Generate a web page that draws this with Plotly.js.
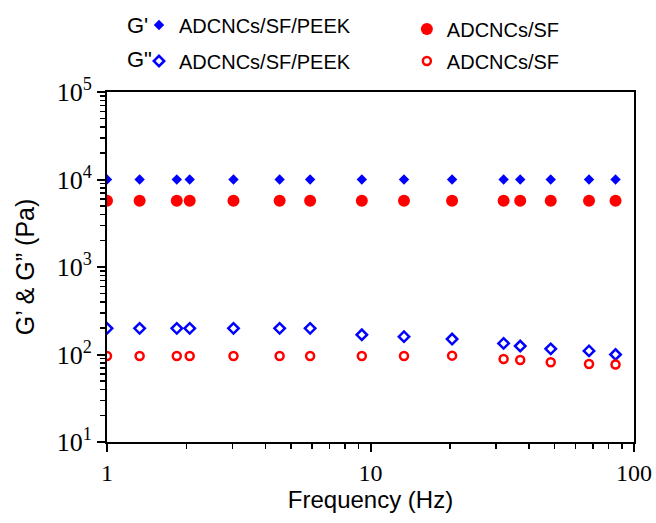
<!DOCTYPE html>
<html>
<head>
<meta charset="utf-8">
<script src="https://cdn.plot.ly/plotly-3.0.1.min.js"></script>
<style>html,body{margin:0;padding:0;background:#fff;}#chart{width:656px;height:523px;}</style>
</head>
<body>
<div id="chart"></div>
<script>
// Frequency (Hz)
const frequency = [1, 1.33, 1.84, 2.06, 3.02, 4.52, 5.9, 9.27, 13.4, 20.4, 32.0, 37.0, 48.3, 67.5, 85.1];
// Storage modulus G' (Pa)
const gPrimePEEK = [10000, 10000, 10000, 10000, 10000, 10000, 10000, 10000, 10000, 10000, 10000, 10000, 10000, 10000, 10000];
const gPrimeSF   = [5700, 5700, 5700, 5700, 5700, 5700, 5700, 5700, 5700, 5700, 5700, 5700, 5700, 5700, 5700];
// Loss modulus G'' (Pa)
const gDoublePEEK = [199, 199, 199, 199, 199, 199, 199, 168, 160, 150, 134, 125, 116, 110, 100];
const gDoubleSF   = [96, 96, 96, 96, 96, 96, 96, 96, 96, 97, 89, 86.5, 81.5, 78, 77];
// Labels
const seriesNames = ['ADCNCs/SF/PEEK', 'ADCNCs/SF', 'ADCNCs/SF/PEEK', 'ADCNCs/SF'];
const xTickVals = [1, 10, 100];
const xTickText = ['1', '10', '100'];
const yTickVals = [10, 100, 1000, 10000, 100000];
const yTickText = ['10<sup>1</sup>', '10<sup>2</sup>', '10<sup>3</sup>', '10<sup>4</sup>', '10<sup>5</sup>'];

const BLUE = '#0000FF', RED = '#FF0000';

function minorTicks(lo, hi) {
  const v = [];
  for (let d = lo; d < hi; d++) for (let k = 2; k <= 9; k++) v.push(k * Math.pow(10, d));
  return v;
}

const traces = [
  {x: frequency, y: gPrimePEEK, name: seriesNames[0], type: 'scatter', mode: 'markers',
   marker: {symbol: 'diamond', size: 8, color: BLUE}, legend: 'legend', legendgroup: 'a'},
  {x: frequency, y: gDoublePEEK, name: seriesNames[2], type: 'scatter', mode: 'markers',
   marker: {symbol: 'diamond-open', size: 8, color: BLUE, line: {width: 2.5, color: BLUE}}, legend: 'legend', legendgroup: 'b'},
  {x: frequency, y: gPrimeSF, name: seriesNames[1], type: 'scatter', mode: 'markers',
   marker: {symbol: 'circle', size: 12, color: RED}, legend: 'legend2', legendgroup: 'c'},
  {x: frequency, y: gDoubleSF, name: seriesNames[3], type: 'scatter', mode: 'markers',
   marker: {symbol: 'circle-open', size: 8, color: RED, line: {width: 2.5, color: RED}}, legend: 'legend2', legendgroup: 'd'}
];

const legendFont = {family: 'Liberation Sans, Arial, sans-serif', size: 20, color: '#000'};
const layout = {
  width: 656, height: 523,
  margin: {l: 107, r: 22, t: 92, b: 81},
  paper_bgcolor: '#fff', plot_bgcolor: '#fff',
  showlegend: true,
  legend: {x: 0.0607, xref: 'paper', y: 0.9895, yref: 'container', xanchor: 'left', yanchor: 'top', orientation: 'v',
           font: legendFont, tracegroupgap: 7, bgcolor: 'rgba(0,0,0,0)'},
  legend2: {x: 0.569, xref: 'paper', y: 0.982, yref: 'container', xanchor: 'left', yanchor: 'top', orientation: 'v',
            font: legendFont, tracegroupgap: 3, bgcolor: 'rgba(0,0,0,0)'},
  xaxis: {
    type: 'log', range: [0, 2],
    tickmode: 'array', tickvals: xTickVals, ticktext: xTickText,
    ticks: 'outside', ticklen: 8, tickwidth: 2, tickcolor: '#000',
    minor: {tickmode: 'array', tickvals: minorTicks(0, 2), ticks: 'outside', ticklen: 5, tickwidth: 1.5, tickcolor: '#000'},
    showline: true, linewidth: 2, linecolor: '#000', mirror: true,
    showgrid: false, zeroline: false,
    tickfont: {family: 'Liberation Serif, Times New Roman, serif', size: 24, color: '#000'},
    title: {text: 'Frequency (Hz)', font: {family: 'Liberation Sans, Arial, sans-serif', size: 24, color: '#000'}, standoff: 0}
  },
  yaxis: {
    type: 'log', range: [1, 5],
    tickmode: 'array', tickvals: yTickVals, ticktext: yTickText,
    ticks: 'outside', ticklen: 8, tickwidth: 2, tickcolor: '#000',
    minor: {tickmode: 'array', tickvals: minorTicks(1, 5), ticks: 'outside', ticklen: 5, tickwidth: 1.5, tickcolor: '#000'},
    showline: true, linewidth: 2, linecolor: '#000', mirror: true,
    showgrid: false, zeroline: false,
    tickfont: {family: 'Liberation Serif, Times New Roman, serif', size: 26, color: '#000'},
    title: {text: 'G’ & G” (Pa)', font: {family: 'Liberation Sans, Arial, sans-serif', size: 25, color: '#000'}, standoff: 15}
  },
  annotations: [
    {text: "G'", xref: 'paper', yref: 'paper', x: 0.034, y: 1.19, xanchor: 'left', yanchor: 'middle',
     showarrow: false, font: {family: 'Liberation Sans, Arial, sans-serif', size: 22, color: '#000'}},
    {text: 'G"', xref: 'paper', yref: 'paper', x: 0.034, y: 1.094, xanchor: 'left', yanchor: 'middle',
     showarrow: false, font: {family: 'Liberation Sans, Arial, sans-serif', size: 22, color: '#000'}}
  ]
};

Plotly.newPlot('chart', traces, layout, {displayModeBar: false, staticPlot: true});
</script>
</body>
</html>
